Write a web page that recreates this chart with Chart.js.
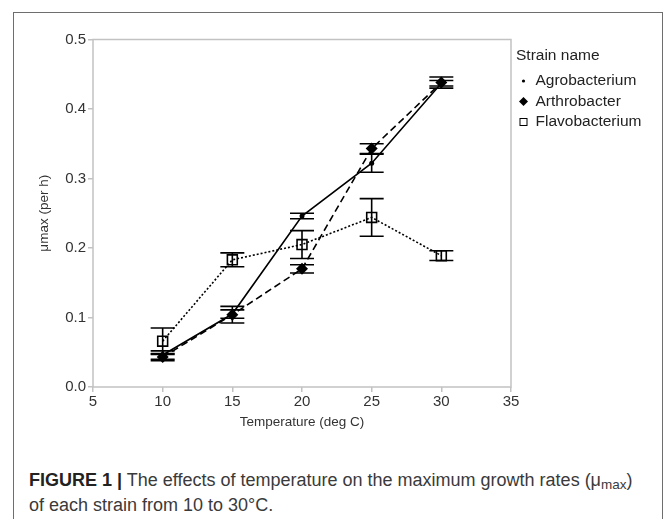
<!DOCTYPE html>
<html>
<head>
<meta charset="utf-8">
<script src="https://cdn.jsdelivr.net/npm/chart.js@4.4.1/dist/chart.umd.min.js"></script>
<style>
    body { margin: 0; background: #fff; width: 669px; height: 519px; overflow: hidden; position: relative; font-family: "Liberation Sans", Arial, Helvetica, sans-serif; }
    #frame { position: absolute; left: 13px; top: 12px; width: 648px; height: 530px; border: 1.5px solid #6e6e6e; }
    #chart-box { position: absolute; left: 15px; top: 14px; }
    #caption { position: absolute; left: 29px; top: 470px; font-size: 18px; line-height: 21px; color: #3a3a3a; white-space: nowrap; }
    #caption b { color: #222; }
    #caption sub { font-size: 13.5px; vertical-align: -3px; }
</style>
</head>
<body>
<div id="frame"></div>
<div id="chart-box"><canvas id="line-chart" width="646" height="430"></canvas></div>
<div id="caption"><b>FIGURE 1</b> <b>|</b> The effects of temperature on the maximum growth rates (μ<sub>max</sub>)<br>of each strain from 10 to 30°C.</div>

<script>
// Suhu (deg C)
const suhu = [10, 15, 20, 25, 30];

// Nilai umax per strain
const agro = [0.046, 0.105, 0.246, 0.322, 0.437];
const arthro = [0.043, 0.104, 0.170, 0.343, 0.438];
const flavo = [0.066, 0.183, 0.205, 0.244, 0.189];

// Error bar (+/-)
const agroErr = [0.006, 0.006, 0.004, 0.013, 0.004];
const arthroErr = [0.005, 0.012, 0.006, 0.007, 0.008];
const flavoErr = [0.019, 0.010, 0.020, 0.027, 0.007];

// Label
const namaStrain = ['Agrobacterium', 'Arthrobacter', 'Flavobacterium'];
const xTicks = [5, 10, 15, 20, 25, 30, 35];
const yTicks = [0.0, 0.1, 0.2, 0.3, 0.4, 0.5];

const errors = [agroErr, arthroErr, flavoErr];
const fontFamily = '"Liberation Sans", Arial, sans-serif';

function toPoints(values) {
    return suhu.map((t, i) => ({ x: t, y: values[i] }));
}

// Kotak plot (4 sisi)
const plotBox = {
    id: 'plotBox',
    beforeDatasetsDraw(chart) {
        const { ctx, chartArea } = chart;
        ctx.save();
        ctx.strokeStyle = '#c2c2c2';
        ctx.lineWidth = 1.5;
        ctx.strokeRect(chartArea.left, chartArea.top, chartArea.right - chartArea.left, chartArea.bottom - chartArea.top);
        ctx.restore();
    }
};

// Error bar pakai skala chart
const errorBars = {
    id: 'errorBars',
    afterDatasetsDraw(chart) {
        const { ctx } = chart;
        const xScale = chart.scales.x;
        const yScale = chart.scales.y;
        ctx.save();
        ctx.strokeStyle = '#000';
        ctx.lineWidth = 1.6;
        ctx.setLineDash([]);
        chart.data.datasets.forEach((ds, d) => {
            ds.data.forEach((p, i) => {
                const px = xScale.getPixelForValue(p.x);
                const top = yScale.getPixelForValue(p.y + errors[d][i]);
                const bottom = yScale.getPixelForValue(p.y - errors[d][i]);
                ctx.beginPath();
                ctx.moveTo(px, top);
                ctx.lineTo(px, bottom);
                ctx.moveTo(px - 12, top);
                ctx.lineTo(px + 12, top);
                ctx.moveTo(px - 12, bottom);
                ctx.lineTo(px + 12, bottom);
                ctx.stroke();
            });
        });
        ctx.restore();
    }
};

// Legend manual di kanan plot
const strainLegend = {
    id: 'strainLegend',
    afterDraw(chart) {
        const { ctx, chartArea } = chart;
        const x0 = chartArea.right;
        ctx.save();
        ctx.fillStyle = '#222';
        ctx.textBaseline = 'middle';
        ctx.textAlign = 'left';
        ctx.font = '15.5px ' + fontFamily;
        ctx.fillText('Strain name', x0 + 5, 42);

        namaStrain.forEach((nama, i) => {
            const y = 67 + i * 20.5;
            const sx = x0 + 12.5;
            ctx.fillStyle = '#000';
            ctx.strokeStyle = '#000';
            if (i === 0) {
                ctx.beginPath();
                ctx.arc(sx, y, 1.6, 0, Math.PI * 2);
                ctx.fill();
            } else if (i === 1) {
                ctx.beginPath();
                ctx.moveTo(sx, y - 4.5);
                ctx.lineTo(sx + 4.5, y);
                ctx.lineTo(sx, y + 4.5);
                ctx.lineTo(sx - 4.5, y);
                ctx.closePath();
                ctx.fill();
            } else {
                ctx.lineWidth = 1;
                ctx.strokeRect(sx - 3.5, y - 3.5, 7, 7);
            }
            ctx.fillStyle = '#222';
            ctx.fillText(nama, x0 + 24.5, y);
        });
        ctx.restore();
    }
};

var ctxLine = document.getElementById('line-chart');

var lineChart = new Chart(ctxLine, {
    type: 'line',
    data: {
        datasets: [
            // Agrobacterium
            {
                label: namaStrain[0],
                data: toPoints(agro),
                borderColor: '#000',
                borderWidth: 1.6,
                backgroundColor: '#000',
                pointStyle: 'circle',
                pointRadius: 2.5,
                pointBorderWidth: 0,
                tension: 0
            },
            // Arthrobacter
            {
                label: namaStrain[1],
                data: toPoints(arthro),
                borderColor: '#000',
                borderWidth: 1.6,
                borderDash: [7, 4],
                backgroundColor: '#000',
                pointStyle: 'rectRot',
                pointRadius: 6,
                pointBorderWidth: 0,
                tension: 0
            },
            // Flavobacterium
            {
                label: namaStrain[2],
                data: toPoints(flavo),
                borderColor: '#000',
                borderWidth: 1.6,
                borderDash: [2, 2],
                backgroundColor: 'rgba(0,0,0,0)',
                pointStyle: 'rect',
                pointRadius: 7,
                pointBorderWidth: 1.6,
                pointBorderColor: '#000',
                tension: 0
            }
        ]
    },
    options: {
        responsive: false,
        animation: false,
        events: [],
        layout: {
            padding: { top: 25.5, right: 150, bottom: 0, left: 0 }
        },
        plugins: {
            legend: { display: false },
            tooltip: { enabled: false }
        },
        scales: {
            x: {
                type: 'linear',
                min: 5,
                max: 35,
                afterBuildTicks: (scale) => { scale.ticks = xTicks.map(v => ({ value: v })); },
                afterFit: (scale) => { scale.height = 57; },
                ticks: {
                    color: '#333',
                    padding: 1,
                    maxRotation: 0,
                    font: { size: 15, family: fontFamily },
                    callback: (v) => String(v)
                },
                grid: { drawOnChartArea: false, tickLength: 5, color: '#c2c2c2', lineWidth: 1.5 },
                border: { display: false },
                title: {
                    display: true,
                    text: 'Temperature (deg C)',
                    color: '#333',
                    padding: { top: 0, bottom: 14 },
                    font: { size: 13.5, family: fontFamily }
                }
            },
            y: {
                type: 'linear',
                min: 0,
                max: 0.5,
                afterBuildTicks: (scale) => { scale.ticks = yTicks.map(v => ({ value: v })); },
                afterFit: (scale) => { scale.width = 78; },
                ticks: {
                    color: '#333',
                    padding: 2,
                    font: { size: 15, family: fontFamily },
                    callback: (v) => Number(v).toFixed(1)
                },
                grid: { drawOnChartArea: false, tickLength: 5, color: '#c2c2c2', lineWidth: 1.5 },
                border: { display: false },
                title: {
                    display: true,
                    text: 'μmax (per h)',
                    color: '#333',
                    padding: { top: 21, bottom: 0 },
                    font: { size: 13.5, family: fontFamily }
                }
            }
        }
    },
    plugins: [plotBox, errorBars, strainLegend]
});
</script>
</body>
</html>
